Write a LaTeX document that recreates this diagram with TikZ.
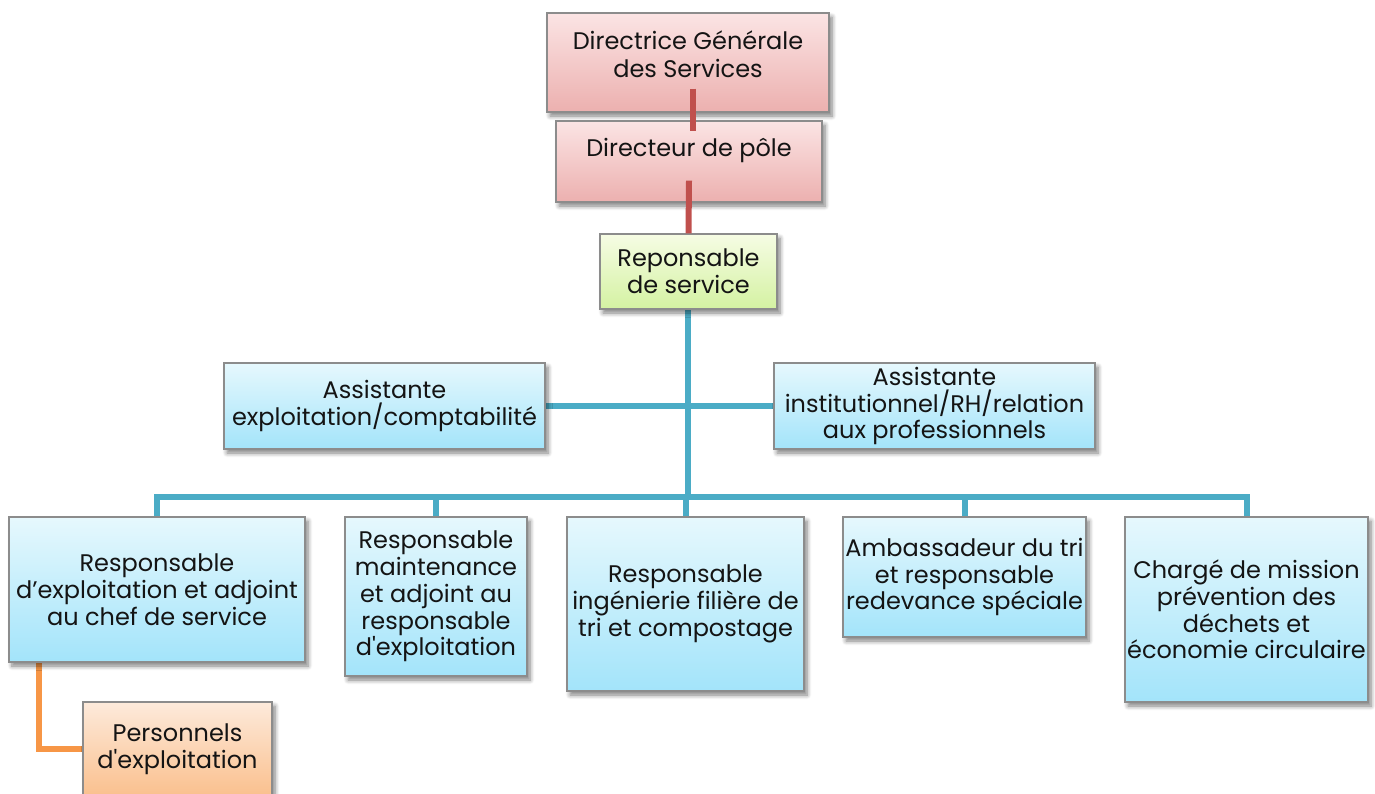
\documentclass[tikz,border=0pt]{standalone}
\usepackage{fontspec}
\setmainfont{Poppins}
\usetikzlibrary{shadows.blur}
\newcommand\sqapos{\XeTeXglyph\the\XeTeXcharglyph"27\relax}
\definecolor{boxgray}{HTML}{8C8C8C}
\definecolor{pinkT}{HTML}{FBE4E4}
\definecolor{pinkB}{HTML}{ECB0AF}
\definecolor{greenT}{HTML}{F6FCE4}
\definecolor{greenB}{HTML}{D4F2A2}
\definecolor{blueT}{HTML}{E6F8FD}
\definecolor{blueB}{HTML}{A3E4FA}
\definecolor{orangeT}{HTML}{FDEADB}
\definecolor{orangeB}{HTML}{FAC08E}
\definecolor{tealline}{HTML}{4BACC6}
\definecolor{redline}{HTML}{C0504D}
\definecolor{orangeline}{HTML}{F79646}
\begin{document}
\begin{tikzpicture}[x=0.5pt,y=-0.5pt,
  box/.style={draw=boxgray, line width=0.6pt, align=center, inner sep=0pt,
    font=\fontsize{12}{13.4}\selectfont, text=black!92,
    blur shadow={shadow xshift=1.5pt, shadow yshift=-2pt, shadow blur steps=6, shadow opacity=50}},
  pinkbox/.style={box, top color=pinkT, bottom color=pinkB},
  greenbox/.style={box, top color=greenT, bottom color=greenB},
  bluebox/.style={box, top color=blueT, bottom color=blueB},
  orangebox/.style={box, top color=orangeT, bottom color=orangeB},
  txt/.style={align=center, inner sep=0pt, font=\fontsize{12}{13.8}\selectfont, text=black!92},
  conn/.style={line width=3pt},
  tealconn/.style={conn, draw=tealline},
  redconn/.style={conn, draw=redline},
  orangeconn/.style={line width=2.6pt, draw=orangeline}
]
\useasboundingbox (0,0) rectangle (1375,793);
\coordinate (bus) at (688,497);

% blue connectors (under boxes)
\draw[tealconn] (688,309) coordinate (rsb) -- (bus);
\draw[tealconn, line join=miter] (157,520) coordinate (b1t) |- (1246.5,497) coordinate (busr) -- (1246.5,520) coordinate (b5t);
\draw[tealconn] (436,497) coordinate (b2a) -- (436,520) coordinate (b2t);
\draw[tealconn] (685.5,497) coordinate (b3a) -- (685.5,520) coordinate (b3t);
\draw[tealconn] (964.5,497) coordinate (b4a) -- (964.5,520) coordinate (b4t);
\draw[tealconn] (545,406) coordinate (aLe) -- (774,406) coordinate (aRw);
% orange connector
\draw[orangeconn, line join=miter] (39,660) coordinate (b1b) |- (85,749) coordinate (persw);

% boxes
\node[pinkbox, minimum width=141pt, minimum height=49.5pt] (dgs) at (688,62.5) {};
\node[txt] (dgst) at (688,54) {Directrice Générale\\des Services};
\node[pinkbox, minimum width=133pt, minimum height=40.5pt] (dir) at (689,161.5) {};
\node[txt] (dirt) at (689,150) {Directeur de pôle};
\node[greenbox, minimum width=88.5pt, minimum height=37.5pt] (rs) at (688.5,271.5) {Reponsable\\de service};
\node[bluebox, minimum width=160.5pt, minimum height=43pt] (aL) at (384.5,406) {Assistante\\exploitation/comptabilité};
\node[bluebox, minimum width=160.5pt, minimum height=43pt] (aR) at (934.5,406) {Assistante\\institutionnel/RH/relation\\aux professionnels};
\node[bluebox, minimum width=148pt, minimum height=72.5pt] (b1) at (157,589.5) {Responsable\\d’exploitation et adjoint\\au chef de service};
\node[bluebox, minimum width=91pt, minimum height=79.5pt] (b2) at (436,596.5) {Responsable\\maintenance\\et adjoint au\\responsable\\d\sqapos exploitation};
\node[bluebox, minimum width=118.5pt, minimum height=87pt] (b3) at (685.5,604) {Responsable\\ingénierie filière de\\tri et compostage};
\node[bluebox, minimum width=121.5pt, minimum height=60pt] (b4) at (964.5,577) {Ambassadeur du tri\\et responsable\\redevance spéciale};
\node[bluebox, minimum width=121.5pt, minimum height=92.5pt] (b5) at (1246.5,609.5) {Chargé de mission\\prévention des\\déchets et\\économie circulaire};
\node[orangebox, minimum width=94.5pt, minimum height=47pt] (pers) at (177.5,749) {Personnels\\d\sqapos exploitation};

% red connectors (over boxes)
\draw[redconn] ([xshift=2.5pt,yshift=12pt]dgs.south) -- ([xshift=2pt,yshift=-5.5pt]dir.north);
\draw[redconn] ([yshift=11pt]dir.south) -- (rs.north);
\end{tikzpicture}
\end{document}
